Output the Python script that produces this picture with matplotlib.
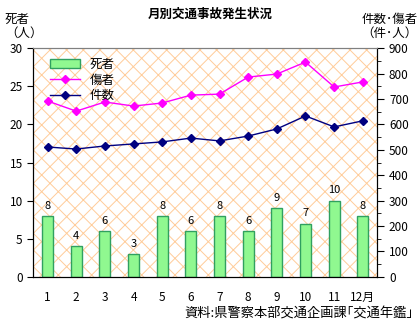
import matplotlib.pyplot as plt
import numpy as np

plt.rcParams['font.family'] = ['Noto Sans CJK JP', 'DejaVu Sans']
plt.rcParams['hatch.linewidth'] = 0.7
plt.rcParams['hatch.color'] = '#ffcc99'

months = ['1', '2', '3', '4', '5', '6', '7', '8', '9', '10', '11', '12月']
deaths = [8, 4, 6, 3, 8, 6, 8, 6, 9, 7, 10, 8]
injured = [692, 652, 688, 672, 684, 715, 719, 786, 798, 845, 747, 767]
cases = [511, 503, 515, 523, 531, 546, 535, 554, 582, 633, 590, 614]

fig = plt.figure(figsize=(4.2, 3.25), dpi=100)
ax = fig.add_axes([0.079, 0.148, 0.819, 0.704])
ax2 = ax.twinx()

# 背景の網目
ax.patch.set_facecolor('white')
ax.patch.set_hatch('xx')
ax.patch.set_edgecolor('#ffcc99')

x = np.arange(len(months))
bars = ax.bar(x, deaths, width=0.38, color='#90f890', edgecolor='#30a060', linewidth=1, label='死者', zorder=2)
for xi, d in zip(x, deaths):
    ax.text(xi, d + 0.7, str(d), ha='center', va='bottom', fontsize=8)

l1, = ax2.plot(x, injured, color='#ff00ff', marker='D', markersize=4, linewidth=1, label='傷者')
l2, = ax2.plot(x, cases, color='#000080', marker='D', markersize=4, linewidth=1, label='件数')

ax.set_xlim(-0.5, 11.5)
ax.set_ylim(0, 30)
ax.set_yticks(range(0, 31, 5))
ax2.set_ylim(0, 900)
ax2.set_yticks(range(0, 901, 100))
ax2.set_yticks(range(50, 900, 100), minor=True)
ax.set_xticks(x)
ax.set_xticklabels(months)
ax.tick_params(axis='x', length=0, pad=10, labelsize=8.5)
ax.tick_params(axis='y', length=4, labelsize=8.5)
ax2.tick_params(axis='y', which='major', length=5, labelsize=8.5)
ax2.tick_params(axis='y', which='minor', length=3)
ax.spines['top'].set_color('#808080')
ax2.spines['top'].set_color('#808080')

ax2.legend([bars, l1, l2], ['死者', '傷者', '件数'], loc='upper left', frameon=False,
           fontsize=9, handlelength=2.4, labelspacing=0.2, borderaxespad=0.4,
           bbox_to_anchor=(0.02, 1.0))

fig.text(0.5, 0.955, '月別交通事故発生状況', ha='center', va='center', fontsize=9, fontweight='bold')
fig.text(0.012, 0.878, '死者\n（人）', ha='left', va='bottom', fontsize=9, linespacing=1.05)
fig.text(0.995, 0.878, '件数･傷者\n（件･人）', ha='right', va='bottom', fontsize=9, linespacing=1.05)
fig.text(0.985, 0.015, '資料:県警察本部交通企画課｢交通年鑑｣', ha='right', va='bottom', fontsize=9.5)

fig.savefig('out.png', dpi=100)
